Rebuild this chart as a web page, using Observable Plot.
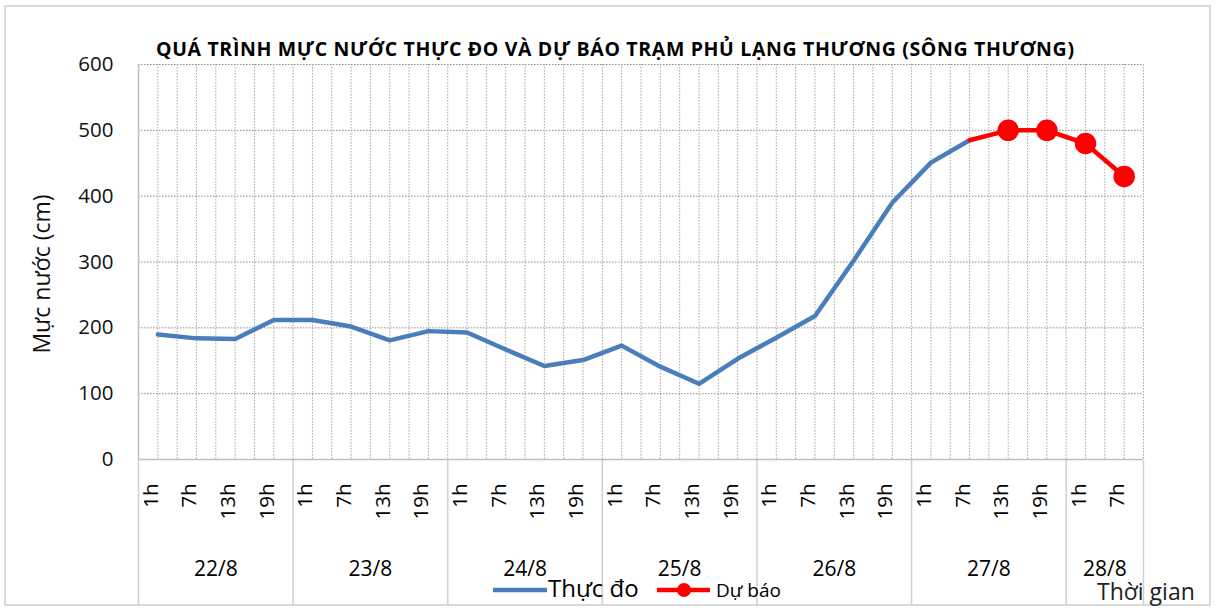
<!DOCTYPE html>
<html>
<head>
<meta charset="utf-8">
<script src="https://cdn.jsdelivr.net/npm/d3@7"></script>
<script src="https://cdn.jsdelivr.net/npm/@observablehq/plot@0.6"></script>
<style>
  html, body { margin: 0; padding: 0; background: #fff; }
  #wrap { position: relative; width: 1219px; height: 608px; overflow: hidden; font-family: "Open Sans", sans-serif; }
  #frame { position: absolute; left: 4px; top: 5px; width: 1207px; height: 601px; border: 2px solid #d9d9d9; box-sizing: border-box; pointer-events: none; }
  #chart { position: absolute; left: 0; top: 0; }
  #overlay { position: absolute; left: 0; top: 0; pointer-events: none; }
</style>
</head>
<body>
<div id="wrap">
  <div id="frame"></div>
  <div id="chart"></div>
  <svg id="overlay" width="1219" height="608"></svg>
</div>
<script>
// ---- Data ----
const title = "QUÁ TRÌNH MỰC NƯỚC THỰC ĐO VÀ DỰ BÁO TRẠM PHỦ LẠNG THƯƠNG (SÔNG THƯƠNG)";
const yLabel = "Mực nước (cm)";
const xLabel = "Thời gian";
const days = ["22/8", "23/8", "24/8", "25/8", "26/8", "27/8", "28/8"];
const hours = ["1h", "7h", "13h", "19h"];
const hoursPerDay = [4, 4, 4, 4, 4, 4, 2];
const observed = [190, 184, 183, 212, 212, 202, 181, 195, 193, 167, 142, 151, 173, 141, 115, 153, 185, 218, 302, 390, 451, 485, null, null, null, null];
const forecast = [null, null, null, null, null, null, null, null, null, null, null, null, null, null, null, null, null, null, null, null, null, 485, 500, 500, 480, 430];
const yTicks = [0, 100, 200, 300, 400, 500, 600];
const seriesNames = ["Thực đo", "Dự báo"];

// ---- Build table ----
const rows = [];
const groups = [];
let idx = 0;
days.forEach((d, di) => {
  const start = idx;
  hours.slice(0, hoursPerDay[di]).forEach(h => {
    rows.push({i: idx, pos: idx + 0.5, hour: h, day: d, obs: observed[idx], fc: forecast[idx]});
    idx++;
  });
  groups.push({day: d, start, end: idx, mid: (start + idx) / 2});
});
const n = rows.length;
const gridX = d3.range(1, 2 * n + 1).map(k => k / 2);
const boundaries = [0, ...groups.map(g => g.end)];

const blue = "#4a7ebb";
const red = "#ff0000";
const font = "Open Sans, sans-serif";

const chart = Plot.plot({
  width: 1219,
  height: 608,
  marginLeft: 138,
  marginRight: 76,
  marginTop: 64,
  marginBottom: 149,
  style: {fontFamily: font, background: "transparent"},
  x: {type: "linear", domain: [0, n], axis: null},
  y: {domain: [0, 600], axis: null},
  marks: [
    // gridlines
    Plot.ruleY(yTicks.filter(v => v > 0), {stroke: "#8c8c8c", strokeDasharray: "1.5,1.5", strokeWidth: 1}),
    Plot.ruleX(gridX, {stroke: "#a6a6a6", strokeDasharray: "1.5,1.5", strokeWidth: 1}),
    // group separators extending below axis
    Plot.ruleX(boundaries, {stroke: "#d0d0d0", strokeWidth: 1.5, insetBottom: -146, insetTop: 396}),
    // axis lines
    Plot.ruleX([0], {stroke: "#bfbfbf", strokeWidth: 1.5}),
    Plot.ruleY([0], {stroke: "#bfbfbf", strokeWidth: 1.5}),
    // y axis
    Plot.axisY({ticks: yTicks, tickSize: 0, tickPadding: 25, fontSize: 20.5, fontFamily: font, fill: "#111", label: null}),
    // y label
    Plot.text([yLabel], {frameAnchor: "left", rotate: -90, textAnchor: "middle", dx: -96, dy: 12, fontSize: 23, fill: "#111", fontFamily: font}),
    // title
    Plot.text([title], {frameAnchor: "top", dx: -26, dy: -22, fontSize: 19.5, fontWeight: "bold", fill: "#000", fontFamily: font}),
    // x tick labels (hours)
    Plot.text(rows, {x: "pos", text: "hour", frameAnchor: "bottom", rotate: -90, textAnchor: "end", dy: 24, fontSize: 20.5, fill: "#000", fontFamily: font}),
    // date labels
    Plot.text(groups, {x: "mid", text: "day", frameAnchor: "bottom", dy: 116, fontSize: 21, fill: "#000", fontFamily: font}),
    // observed line
    Plot.line(rows.filter(r => r.obs != null), {x: "pos", y: "obs", stroke: blue, strokeWidth: 4.5, strokeLinejoin: "round"}),
    // forecast line
    Plot.line(rows.filter(r => r.fc != null), {x: "pos", y: "fc", stroke: red, strokeWidth: 4.5, strokeLinejoin: "round"}),
    Plot.dot(rows.filter(r => r.fc != null && r.obs == null), {x: "pos", y: "fc", r: 10, fill: red, stroke: red})
  ]
});
document.getElementById("chart").appendChild(chart);

// stretch title to the reference width
d3.select(chart).selectAll("text")
  .filter(function() { return this.textContent === title; })
  .attr("textLength", 918)
  .attr("lengthAdjust", "spacing");

// legend + axis title (overlay)
const ov = d3.select("#overlay");
ov.append("line").attr("x1", 493).attr("x2", 547).attr("y1", 590).attr("y2", 590)
  .attr("stroke", blue).attr("stroke-width", 4.5);
ov.append("text").attr("x", 548).attr("y", 597).attr("font-size", 24).attr("font-family", font)
  .attr("fill", "#000").text(seriesNames[0]);
ov.append("line").attr("x1", 657).attr("x2", 710).attr("y1", 590).attr("y2", 590)
  .attr("stroke", red).attr("stroke-width", 4.5);
ov.append("circle").attr("cx", 684).attr("cy", 590).attr("r", 7).attr("fill", red);
ov.append("text").attr("x", 716).attr("y", 597).attr("font-size", 19).attr("font-family", font)
  .attr("fill", "#000").text(seriesNames[1]);
ov.append("text").attr("x", 1097).attr("y", 600).attr("font-size", 23).attr("font-family", font)
  .attr("fill", "#222").text(xLabel);
</script>
</body>
</html>
